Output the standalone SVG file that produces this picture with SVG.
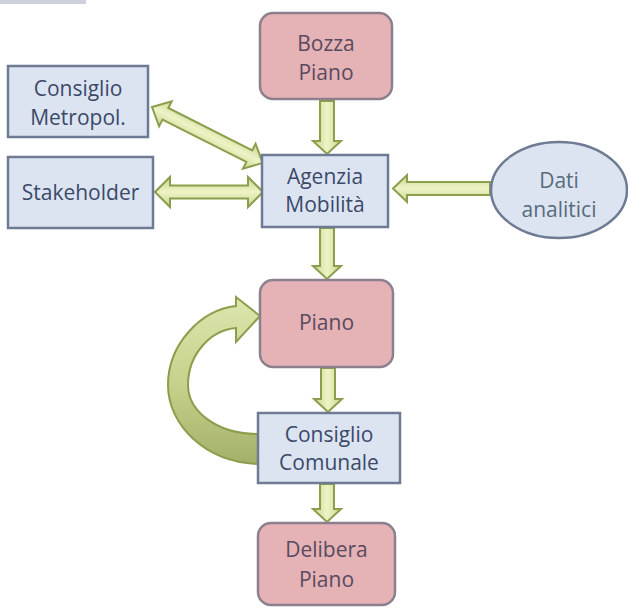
<svg xmlns="http://www.w3.org/2000/svg" width="628" height="608" viewBox="0 0 628 608">
  <defs>
    <linearGradient id="gv" x1="0" y1="0" x2="1" y2="0">
      <stop offset="0" stop-color="#c9d690"/>
      <stop offset="0.5" stop-color="#eef3c6"/>
      <stop offset="1" stop-color="#c9d690"/>
    </linearGradient>
    <linearGradient id="gh" x1="0" y1="0" x2="0" y2="1">
      <stop offset="0" stop-color="#c9d690"/>
      <stop offset="0.5" stop-color="#eef3c6"/>
      <stop offset="1" stop-color="#c9d690"/>
    </linearGradient>
    <linearGradient id="gc" x1="0" y1="0" x2="0" y2="1">
      <stop offset="0" stop-color="#dde6ad"/>
      <stop offset="0.55" stop-color="#c4d08a"/>
      <stop offset="1" stop-color="#a3b06a"/>
    </linearGradient>
    <style>
      .blue { fill: #dce4f2; stroke: #6e7b92; stroke-width: 2.5; }
      .pink { fill: #e5b3b6; stroke: #8c7f8e; stroke-width: 2.5; }
      .arr { stroke: #8b9e4c; stroke-width: 2; stroke-linejoin: miter; }
      text { font-family: "Open Sans", "Liberation Sans", sans-serif; font-size: 21px; text-anchor: middle; }
      .tb { fill: #3a4967; }
      .tp { fill: #594a5e; }
      .te { fill: #566b7b; }
    </style>
  </defs>
  <rect width="628" height="608" fill="#ffffff"/>
  <rect x="0" y="0" width="86" height="4" fill="#aab2c4" opacity="0.6"/>

  <g id="connectors">
    <path class="arr" fill="url(#gv)" d="M320 101 L334 101 L334 141 L341 141 L327 154 L313 141 L320 141 Z"/>
    <path class="arr" fill="url(#gv)" d="M320 228 L334 228 L334 266 L341 266 L327 279 L313 266 L320 266 Z"/>
    <path class="arr" fill="url(#gv)" d="M321 368 L335 368 L335 399 L342 399 L328 412 L314 399 L321 399 Z"/>
    <path class="arr" fill="url(#gv)" d="M320 484 L334 484 L334 509 L341 509 L327 522 L313 509 L320 509 Z"/>
    <path class="arr" fill="url(#gh)" d="M490 182 L490 195 L407 195 L407 202 L393 188.5 L407 175 L407 182 Z"/>
    <path class="arr" fill="url(#gh)" d="M155 192 L170 177 L170 185.5 L248 185.5 L248 177 L263 192 L248 207 L248 198.5 L170 198.5 L170 207 Z"/>
    <path class="arr" fill="url(#gh)" transform="translate(152 107) rotate(26.8)" d="M0 0 L15 -14 L15 -6.5 L109 -6.5 L109 -14 L124 0 L109 14 L109 6.5 L15 6.5 L15 14 Z"/>
    <path class="arr" fill="url(#gc)" d="M258 464 C205 462 168 425 168 385 C168 345 200 310 236 306 L236 297 L260 316 L236 342 L236 328 C210 330 188 355 188 385 C188 410 215 434 258 434 Z"/>
  </g>

  <g id="bozza">
    <rect class="pink" x="260" y="13" width="132" height="86" rx="13"/>
    <text class="tp" x="326" y="51">Bozza</text>
    <text class="tp" x="326" y="80">Piano</text>
  </g>
  <g id="consiglio-metropol">
    <rect class="blue" x="8" y="66" width="140" height="71"/>
    <text class="tb" x="78" y="96">Consiglio</text>
    <text class="tb" x="78" y="125">Metropol.</text>
  </g>
  <g id="stakeholder">
    <rect class="blue" x="8" y="157" width="145" height="71"/>
    <text class="tb" x="80.5" y="200">Stakeholder</text>
  </g>
  <g id="agenzia">
    <rect class="blue" x="262" y="155" width="126" height="72"/>
    <text class="tb" x="325" y="184">Agenzia</text>
    <text class="tb" x="325" y="212">Mobilità</text>
  </g>
  <g id="dati">
    <ellipse class="blue" cx="559" cy="190" rx="68" ry="48"/>
    <text class="te" x="559" y="188">Dati</text>
    <text class="te" x="559" y="217">analitici</text>
  </g>
  <g id="piano">
    <rect class="pink" x="260" y="280" width="133" height="87" rx="13"/>
    <text class="tp" x="326.5" y="330">Piano</text>
  </g>
  <g id="consiglio-comunale">
    <rect class="blue" x="258" y="413" width="142" height="70"/>
    <text class="tb" x="329" y="442">Consiglio</text>
    <text class="tb" x="329" y="470">Comunale</text>
  </g>
  <g id="delibera">
    <rect class="pink" x="258" y="523" width="137" height="82" rx="13"/>
    <text class="tp" x="326.5" y="557">Delibera</text>
    <text class="tp" x="326.5" y="587">Piano</text>
  </g>
</svg>
